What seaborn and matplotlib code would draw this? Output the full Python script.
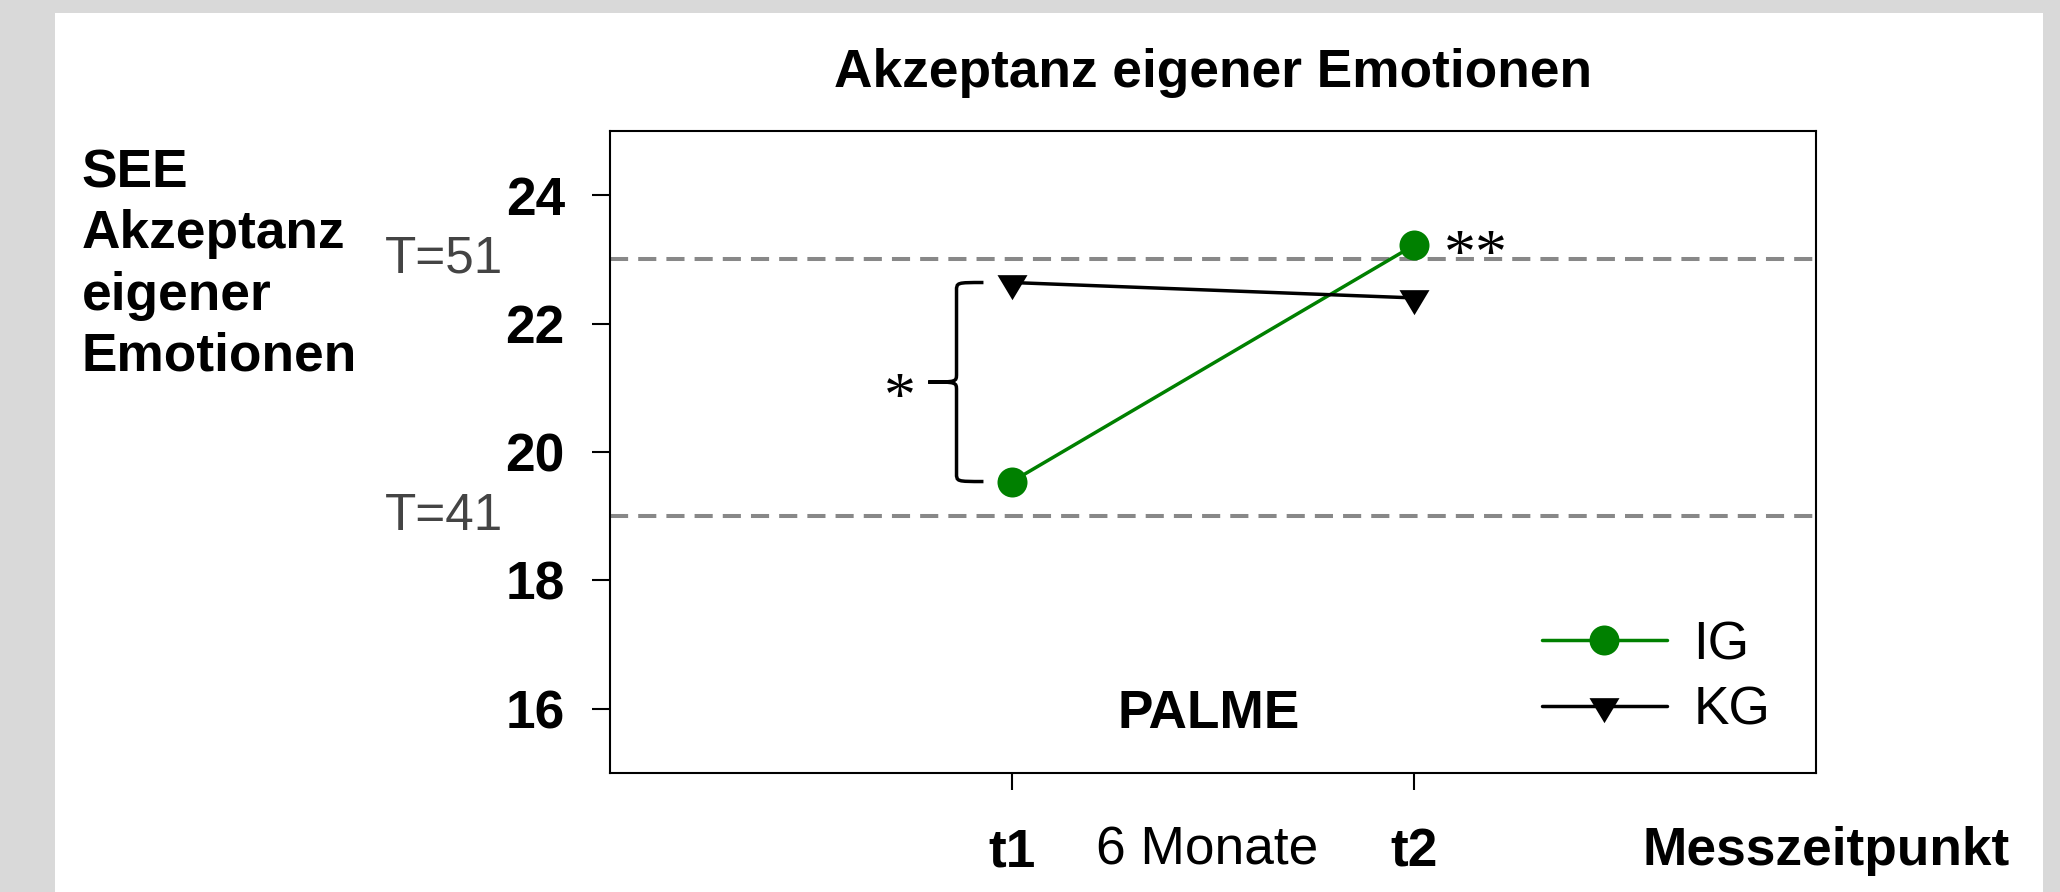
import numpy as np
import pandas as pd
import seaborn as sns
import matplotlib.pyplot as plt
import matplotlib.transforms as mtransforms
from matplotlib.path import Path
from matplotlib.patches import PathPatch, Rectangle

# data
zeitpunkte = ["t1", "t2"]
ig_werte = [19.54, 23.22]
kg_werte = [22.64, 22.40]
gruppen = ["IG", "KG"]
farben = {"IG": "#008000", "KG": "black"}
t_werte = [23, 19]
t_labels = ["T=51", "T=41"]
y_ticks = [16, 18, 20, 22, 24]
sig_t1 = "*"
sig_ig = "**"

df = pd.DataFrame({
    "Messzeitpunkt": zeitpunkte * 2,
    "Wert": ig_werte + kg_werte,
    "Gruppe": ["IG"] * len(zeitpunkte) + ["KG"] * len(zeitpunkte),
})

sns.set_style("white")
plt.rcParams["font.family"] = ["Liberation Sans", "DejaVu Sans"]
plt.rcParams["text.color"] = "black"
plt.rcParams["axes.labelcolor"] = "black"
plt.rcParams["xtick.color"] = "black"
plt.rcParams["ytick.color"] = "black"
FS = 38.3

# down triangle centred on its centroid
tri = Path([(-0.6, 1 / 3), (0.6, 1 / 3), (0, -2 / 3), (-0.6, 1 / 3)],
           [Path.MOVETO, Path.LINETO, Path.LINETO, Path.CLOSEPOLY])
marker_style = {"IG": dict(marker="o", markersize=21.6),
                "KG": dict(marker=tri, markersize=24)}

fig = plt.figure(figsize=(20.6, 8.92), dpi=100, facecolor="#d9d9d9")
fig.patches.append(Rectangle((55 / 2060, 0), (2043 - 55) / 2060, (892 - 13) / 892,
                             transform=fig.transFigure, facecolor="white",
                             edgecolor="none", zorder=-10))
ax = fig.add_axes([610 / 2060, 1 - 773 / 892, 1206 / 2060, 642 / 892])

# reference lines
for t in t_werte:
    ax.axhline(t, color="#888888", lw=2.9, dashes=(4.5, 2.5), zorder=1)

for g in gruppen:
    sub = df[df["Gruppe"] == g]
    sns.lineplot(data=sub, x="Messzeitpunkt", y="Wert", color=farben[g], lw=2.5,
                 markeredgewidth=0, label=g, ax=ax, zorder=3, **marker_style[g])

ax.set_xlim(-1, 2)
ax.set_ylim(15, 25)
ax.set_xlabel("")
ax.set_ylabel("")
ax.set_xticks(range(len(zeitpunkte)))
ax.set_xticklabels(zeitpunkte, fontweight="bold", fontsize=FS)
ax.set_yticks(y_ticks)
ax.set_yticklabels([str(v) for v in y_ticks], fontweight="bold", fontsize=FS)
ax.tick_params(axis="y", direction="out", length=13, width=1.5, pad=19.5,
               left=True, right=False, color="black")
ax.tick_params(axis="x", direction="out", length=12, width=1.5, pad=27,
               bottom=True, top=False, color="black")
for s in ax.spines.values():
    s.set_color("black")
    s.set_linewidth(1.5)

ax.set_title("Akzeptanz eigener Emotionen", fontsize=FS, fontweight="bold", pad=32)

fig.text(81.5 / 2060, 1 - 148 / 892, "SEE\nAkzeptanz\neigener\nEmotionen",
         ha="left", va="top", fontsize=FS, fontweight="bold", linespacing=1.29)

trans_y = mtransforms.blended_transform_factory(ax.transAxes, ax.transData)
for t, lab in zip(t_werte, t_labels):
    ax.text(-0.0887, t, lab, transform=trans_y, ha="right", va="center",
            fontsize=37, color="#444444", clip_on=False)

trans_x = mtransforms.blended_transform_factory(ax.transData, ax.transAxes)
ax.text(0.485, -0.1427, "6 Monate", transform=trans_x, ha="center", va="baseline",
        fontsize=FS, clip_on=False)
ax.text(1.161, -0.1427, "Messzeitpunkt", transform=ax.transAxes, ha="right",
        va="baseline", fontsize=FS, fontweight="bold", clip_on=False)
ax.text(0.49, 15.92, "PALME", ha="center", va="center", fontsize=FS, fontweight="bold")

# brace between groups at t1
top, bot = kg_werte[0], ig_werte[0]
mid = (top + bot) / 2
xv, xe, xc, r = -0.138, -0.071, -0.208, 0.13
verts = [(xe, top), (xv, top), (xv, top), (xv, top - r),
         (xv, mid + r),
         (xv, mid), (xv, mid), (xc, mid),
         (xv, mid), (xv, mid), (xv, mid - r),
         (xv, bot + r),
         (xv, bot), (xv, bot), (xe, bot)]
codes = [Path.MOVETO, Path.CURVE4, Path.CURVE4, Path.CURVE4,
         Path.LINETO,
         Path.CURVE4, Path.CURVE4, Path.CURVE4,
         Path.CURVE4, Path.CURVE4, Path.CURVE4,
         Path.LINETO,
         Path.CURVE4, Path.CURVE4, Path.CURVE4]
ax.add_patch(PathPatch(Path(verts, codes), facecolor="none", edgecolor="black",
                       lw=2.5, clip_on=False))
ax.text(-0.28, mid - 0.3, sig_t1, ha="center", va="center", fontsize=46,
        family="Liberation Serif")
ax.text(1.153, ig_werte[1] - 0.2, sig_ig, ha="center", va="center", fontsize=46,
        family="Liberation Serif")

ax.legend(loc="center left", bbox_to_anchor=(0.7725, 0.148), frameon=False,
          fontsize=FS, handlelength=2.35, handletextpad=0.5, labelspacing=0.3,
          borderpad=0, borderaxespad=0)

fig.savefig("out.png", dpi=100, facecolor=fig.get_facecolor())
